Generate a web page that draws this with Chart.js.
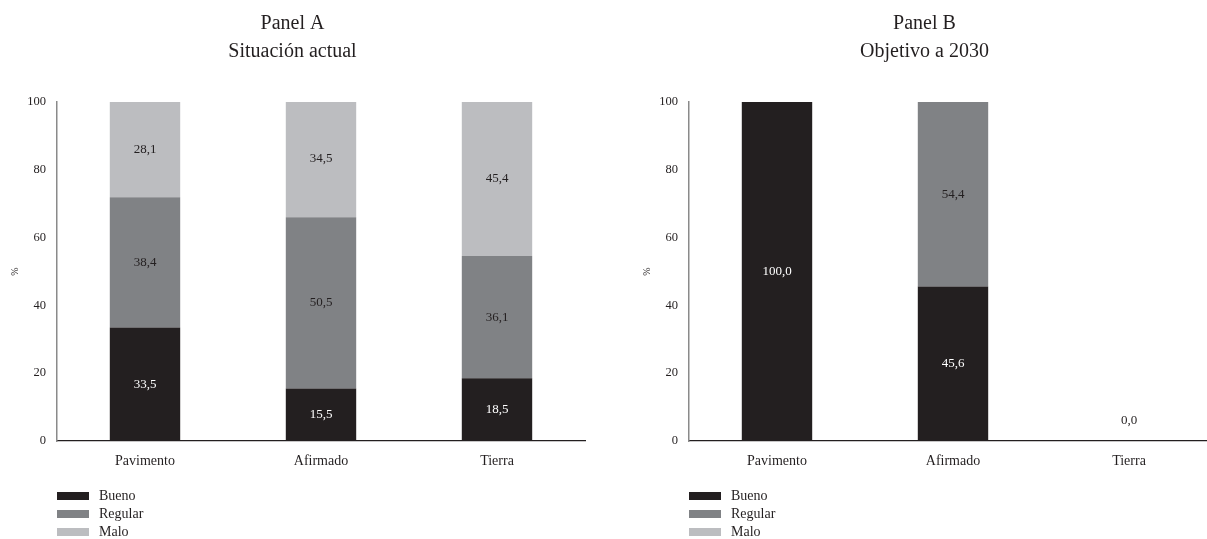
<!DOCTYPE html>
<html>
<head>
<meta charset="utf-8">
<script src="https://cdn.jsdelivr.net/npm/chart.js@4/dist/chart.umd.min.js"></script>
<style>
  html, body { margin: 0; padding: 0; width: 1207px; height: 539px; overflow: hidden; background: #fff; }
  .panel { position: absolute; top: 0; width: 600px; height: 539px; }
  .legend { position: absolute; top: 487px; font-family: "Liberation Serif", serif; font-size: 14px; color: #231f20; }
  .legend .row { height: 18px; display: flex; align-items: center; }
  .legend .box { width: 32px; height: 8px; margin-right: 10px; }
</style>
</head>
<body>
<div class="panel" style="left:0"><canvas id="cA" width="600" height="539"></canvas></div>
<div class="panel" style="left:632px"><canvas id="cB" width="600" height="539"></canvas></div>
<div class="legend" id="legA" style="left:57px"></div>
<div class="legend" id="legB" style="left:689px"></div>
<script>
// ---- data ----
const categories = ["Pavimento", "Afirmado", "Tierra"];
const seriesNames = ["Bueno", "Regular", "Malo"];
const seriesColors = ["#231f20", "#808285", "#bcbdc0"];

const titleA = ["Panel A", "Situación actual"];
const buenoA   = [33.5, 15.5, 18.5];
const regularA = [38.4, 50.5, 36.1];
const maloA    = [28.1, 34.5, 45.4];

const titleB = ["Panel B", "Objetivo a 2030"];
const buenoB   = [100.0, 45.6, 0.0];
const regularB = [0.0, 54.4, 0.0];
const maloB    = [0.0, 0.0, 0.0];

const yTicks = [0, 20, 40, 60, 80, 100];
const yTitle = "%";

const FONT = "'Liberation Serif', serif";
const TEXT = "#231f20";

const fmt = v => v.toFixed(1).replace(".", ",");

const labelPlugin = {
  id: "segLabels",
  afterDatasetsDraw(chart) {
    const ctx = chart.ctx;
    ctx.save();
    ctx.font = "13px " + FONT;
    ctx.textAlign = "center";
    ctx.textBaseline = "middle";
    const n = chart.data.labels.length;
    for (let i = 0; i < n; i++) {
      let total = 0;
      chart.data.datasets.forEach(ds => total += ds.data[i]);
      chart.data.datasets.forEach((ds, di) => {
        const meta = chart.getDatasetMeta(di);
        const el = meta.data[i];
        const v = ds.data[i];
        if (v > 0) {
          ctx.fillStyle = di === 0 ? "#ffffff" : TEXT;
          ctx.fillText(fmt(v), el.x, (el.y + el.base) / 2);
        } else if (total === 0 && di === 0) {
          ctx.fillStyle = TEXT;
          ctx.fillText(fmt(v), el.x, el.base - 20);
        }
      });
    }
    ctx.restore();
  }
};

function makeChart(id, title, series) {
  return new Chart(document.getElementById(id), {
    type: "bar",
    data: {
      labels: categories,
      datasets: series.map((d, i) => ({
        label: seriesNames[i],
        data: d,
        backgroundColor: seriesColors[i],
        borderWidth: 0,
        categoryPercentage: 0.8,
        barPercentage: 0.5
      }))
    },
    options: {
      responsive: false,
      animation: false,
      layout: { padding: { left: 0, right: 15, top: 0, bottom: 0 } },
      plugins: {
        legend: { display: false },
        tooltip: { enabled: false },
        title: {
          display: true,
          text: title,
          color: TEXT,
          font: { family: FONT, size: 20, weight: "normal", lineHeight: 1.4 },
          padding: { top: 10, bottom: 36 }
        }
      },
      scales: {
        x: {
          stacked: true,
          grid: { display: false, drawTicks: false },
          border: { color: "#231f20", width: 1.2 },
          ticks: { color: TEXT, font: { family: FONT, size: 14 }, padding: 12 },
          afterFit(s) { s.height = 98; }
        },
        y: {
          stacked: true,
          min: 0, max: 100,
          afterBuildTicks(s) { s.ticks = yTicks.map(v => ({ value: v })); },
          grid: { display: false, drawTicks: false },
          border: { color: "#8a8a8a", width: 1.5 },
          ticks: { color: TEXT, font: { family: FONT, size: 12.5 }, padding: 11 },
          title: { display: true, text: yTitle, color: TEXT, font: { family: FONT, size: 10 }, padding: 9 },
          afterFit(s) { s.width = 57; }
        }
      }
    },
    plugins: [labelPlugin]
  });
}

function buildLegend(id) {
  const el = document.getElementById(id);
  seriesNames.forEach((n, i) => {
    const row = document.createElement("div");
    row.className = "row";
    const b = document.createElement("div");
    b.className = "box";
    b.style.background = seriesColors[i];
    const t = document.createElement("span");
    t.textContent = n;
    row.appendChild(b); row.appendChild(t);
    el.appendChild(row);
  });
}
buildLegend("legA");
buildLegend("legB");

function draw() {
  makeChart("cA", titleA, [buenoA, regularA, maloA]);
  makeChart("cB", titleB, [buenoB, regularB, maloB]);
}
if (document.fonts && document.fonts.load) {
  Promise.all([
    document.fonts.load("13px 'Liberation Serif'"),
    document.fonts.load("20px 'Liberation Serif'")
  ]).then(draw, draw);
} else {
  draw();
}
</script>
</body>
</html>
